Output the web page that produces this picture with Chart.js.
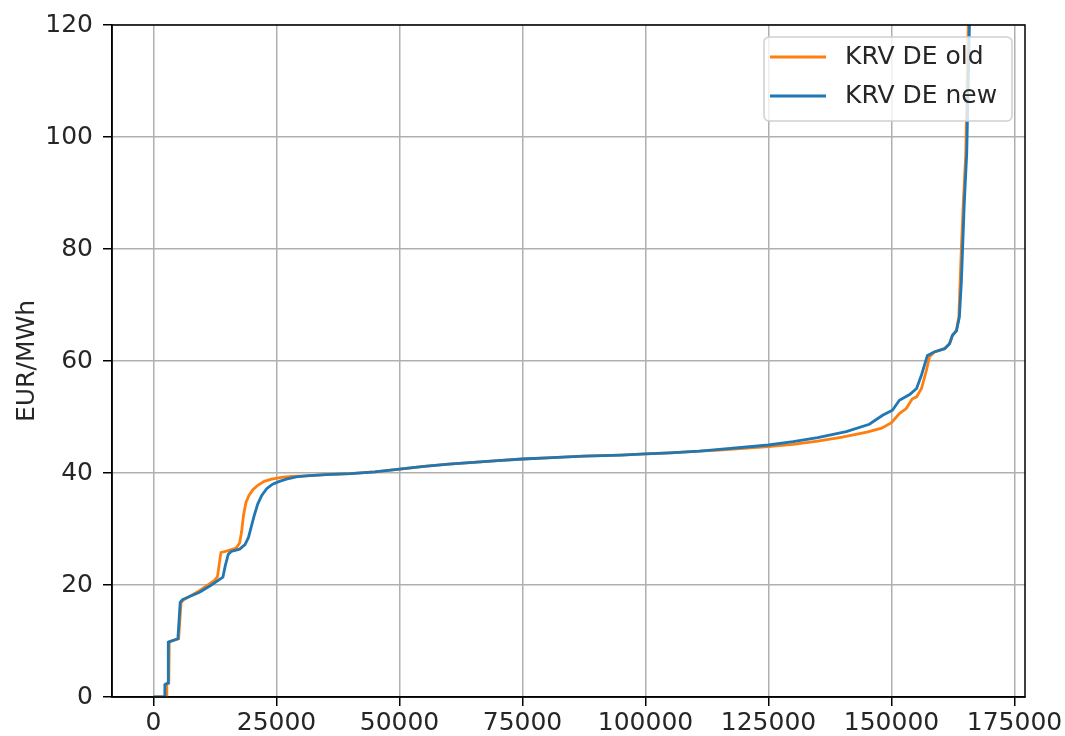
<!DOCTYPE html>
<html>
<head>
<meta charset="utf-8">
<script src="https://cdn.jsdelivr.net/npm/chart.js@4.4.0/dist/chart.umd.min.js"></script>
<style>
html,body{margin:0;padding:0;background:#fff;}
#wrap{width:1065px;height:736px;position:relative;}
</style>
</head>
<body>
<div id="wrap"><canvas id="c" width="1065" height="736"></canvas></div>
<script>
// Series: "KRV DE old" (orange)
const oldX = [0, 2640, 2700, 3100, 3200, 5100, 5600, 6200, 9350, 12400, 13000, 13400, 13700, 15000, 16800, 17500, 17900, 18300, 18800, 19400, 20200, 21200, 22500, 24000, 26000, 28000, 31000, 35000, 40000, 45000, 50000, 55000, 60000, 65000, 70000, 75000, 80000, 87400, 95000, 100000, 105000, 111000, 115000, 120000, 125000, 130000, 135000, 140000, 145000, 148000, 150000, 151600, 153000, 154200, 155100, 156100, 157100, 157700, 158700, 160800, 161800, 162400, 163200, 163700, 164200, 164600, 165100, 165600, 166400];
const oldY = [0, 0, 2.3, 2.5, 9.9, 10.4, 16.9, 17.4, 19.0, 20.8, 21.5, 24.0, 25.8, 26.1, 26.6, 27.5, 29.5, 32.5, 34.8, 36.0, 37.0, 37.8, 38.5, 38.9, 39.2, 39.4, 39.5, 39.7, 39.9, 40.2, 40.7, 41.2, 41.6, 41.9, 42.2, 42.5, 42.7, 43.0, 43.2, 43.4, 43.6, 43.9, 44.1, 44.4, 44.7, 45.1, 45.7, 46.4, 47.3, 48.0, 49.0, 50.6, 51.5, 53.2, 53.6, 55.1, 58.3, 60.7, 61.6, 62.2, 63.1, 64.6, 65.4, 68.0, 80.0, 88.2, 97.0, 120.0, 200.0];
// Series: "KRV DE new" (blue)
const newX = [0, 2240, 2300, 2950, 3000, 4950, 5420, 5900, 9350, 11600, 14100, 14600, 15200, 15800, 17500, 18600, 19300, 19900, 20500, 21200, 22000, 23000, 24200, 25600, 27000, 29000, 31000, 35000, 40000, 45000, 50000, 55000, 60000, 65000, 70000, 75000, 80000, 87400, 95000, 100000, 105000, 111000, 115000, 120000, 125000, 130000, 135000, 140800, 145500, 148200, 150200, 151600, 153700, 155100, 156100, 157300, 158700, 160800, 161800, 162400, 163200, 163800, 164200, 164800, 165300, 165850, 166600];
const newY = [0, 0, 2.2, 2.5, 9.8, 10.4, 16.9, 17.4, 18.7, 19.9, 21.4, 23.5, 25.5, 26.0, 26.4, 27.2, 28.5, 30.5, 32.5, 34.5, 36.0, 37.2, 38.0, 38.5, 38.9, 39.3, 39.5, 39.7, 39.9, 40.2, 40.7, 41.2, 41.6, 41.9, 42.2, 42.5, 42.7, 43.0, 43.2, 43.4, 43.6, 43.9, 44.2, 44.6, 45.0, 45.6, 46.3, 47.4, 48.7, 50.3, 51.2, 53.0, 54.0, 55.1, 57.5, 61.0, 61.6, 62.2, 63.1, 64.6, 65.4, 67.8, 74.0, 88.2, 97.1, 120.0, 200.0];
const seriesLabels = ["KRV DE old", "KRV DE new"];
const seriesColors = ["#ff7f0e", "#1f77b4"];
const xTicks = [0, 25000, 50000, 75000, 100000, 125000, 150000, 175000];
const yTicks = [0, 20, 40, 60, 80, 100, 120];
const yLabel = "EUR/MWh";

const FONT = "DejaVu Sans";
const FS = 25;

const toPts = (xs, ys) => xs.map((x, i) => ({x: x, y: ys[i]}));

const framePlugin = {
  id: 'frame',
  afterDatasetsDraw(chart) {
    const {ctx, chartArea: a} = chart;
    ctx.save();
    ctx.strokeStyle = '#000';
    ctx.lineWidth = 1.5;
    ctx.strokeRect(a.left, a.top, a.right - a.left, a.bottom - a.top);
    ctx.restore();
  },
  afterDraw(chart) {
    const {ctx, chartArea: a} = chart;
    const bx = a.right - 261, by = a.top + 12, bw = 248, bh = 84;
    ctx.save();
    ctx.globalAlpha = 0.8;
    ctx.fillStyle = '#fff';
    ctx.beginPath();
    ctx.roundRect(bx, by, bw, bh, 5);
    ctx.fill();
    ctx.globalAlpha = 1;
    ctx.strokeStyle = '#d0d0d0';
    ctx.lineWidth = 1.5;
    ctx.stroke();
    ctx.font = FS + 'px "' + FONT + '"';
    ctx.textBaseline = 'middle';
    ctx.fillStyle = '#262626';
    chart.data.datasets.forEach((ds, i) => {
      const yy = by + 20 + i * 39;
      ctx.strokeStyle = ds.borderColor;
      ctx.lineWidth = 2.8;
      ctx.beginPath();
      ctx.moveTo(bx + 6, yy);
      ctx.lineTo(bx + 62, yy);
      ctx.stroke();
      ctx.fillText(ds.label, bx + 81, yy);
    });
    ctx.restore();
  }
};

new Chart(document.getElementById('c'), {
  type: 'line',
  data: {
    datasets: [
      {label: seriesLabels[0], data: toPts(oldX, oldY), borderColor: seriesColors[0], borderWidth: 2.8, pointRadius: 0, tension: 0, fill: false, order: 1},
      {label: seriesLabels[1], data: toPts(newX, newY), borderColor: seriesColors[1], borderWidth: 2.8, pointRadius: 0, tension: 0, fill: false, order: 0}
    ]
  },
  options: {
    responsive: false,
    animation: false,
    events: [],
    layout: {padding: {left: 0, right: 40, top: 19, bottom: 0}},
    plugins: {legend: {display: false}, tooltip: {enabled: false}},
    scales: {
      x: {
        type: 'linear',
        min: -8440, max: 177140,
        afterBuildTicks: s => { s.ticks = xTicks.map(v => ({value: v})); },
        afterFit: s => { s.height = 39; },
        grid: {color: '#b0b0b0', lineWidth: 1.5, tickColor: '#000', tickLength: 9, drawTicks: true},
        border: {display: true, color: '#000', width: 1.5},
        ticks: {color: '#262626', font: {family: FONT, size: FS}, padding: 2, maxRotation: 0, autoSkip: false, callback: v => String(v)}
      },
      y: {
        type: 'linear',
        min: 0, max: 120,
        afterBuildTicks: s => { s.ticks = yTicks.map(v => ({value: v})); },
        afterFit: s => { s.width = 112; },
        grid: {color: '#b0b0b0', lineWidth: 1.5, tickColor: '#000', tickLength: 9, drawTicks: true},
        border: {display: true, color: '#000', width: 1.5},
        ticks: {color: '#262626', font: {family: FONT, size: FS}, padding: 10, callback: v => String(v)},
        title: {display: true, text: yLabel, color: '#262626', font: {family: FONT, size: FS}, padding: {top: 12, bottom: 0}}
      }
    }
  },
  plugins: [framePlugin]
});
</script>
</body>
</html>
